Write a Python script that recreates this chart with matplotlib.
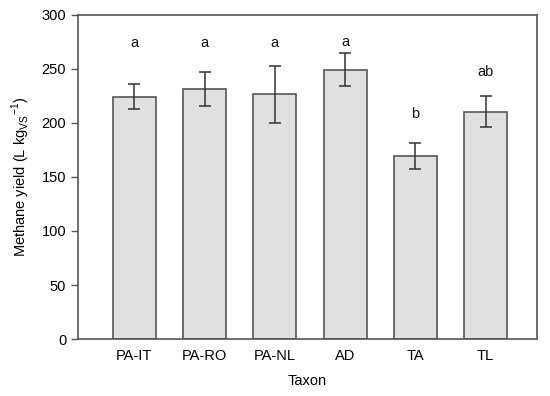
import matplotlib
matplotlib.use("Agg")
import matplotlib.pyplot as plt

plt.rcParams['font.family'] = ['Liberation Sans', 'DejaVu Sans']

taxa = ["PA-IT", "PA-RO", "PA-NL", "AD", "TA", "TL"]
means = [224.5, 231.5, 226.5, 249.5, 169.5, 210.5]
errors = [12, 16, 26.5, 15.5, 11.7, 14.5]
letters = ["a", "a", "a", "a", "b", "ab"]
letter_y = [274, 274, 274, 275, 208, 247]

fig = plt.figure(figsize=(5.5, 3.96), dpi=100)
ax = fig.add_axes([0.1418, 0.1439, 0.8345, 0.8183])

edge = "#555555"
x = list(range(len(taxa)))
ax.bar(x, means, width=0.61, color="#e0e0e0", edgecolor=edge, linewidth=1.2,
       yerr=errors, error_kw=dict(ecolor="#333333", elinewidth=1.1, capsize=4, capthick=1.1))

for xi, lt, ly in zip(x, letters, letter_y):
    ax.text(xi, ly, lt, ha="center", va="center", fontsize=10.5, color="#111111")

ax.set_xlim(-0.8, 5.73)
ax.set_ylim(0, 300)
ax.set_yticks([0, 50, 100, 150, 200, 250, 300])
ax.set_xticks(x)
ax.set_xticklabels(taxa)
ax.tick_params(axis="x", length=0, labelsize=10.5, pad=7)
ax.tick_params(axis="y", length=5, width=1, color=edge, labelsize=10.5, direction="out")
for s in ax.spines.values():
    s.set_color(edge)
    s.set_linewidth(1.2)

ax.set_xlabel("Taxon", fontsize=10.5, labelpad=8)
ax.set_ylabel(r"Methane yield (L kg$_{\mathregular{VS}}$$^{\mathregular{-1}}$)", fontsize=10.5, labelpad=7)

fig.savefig("out.png", dpi=100)
